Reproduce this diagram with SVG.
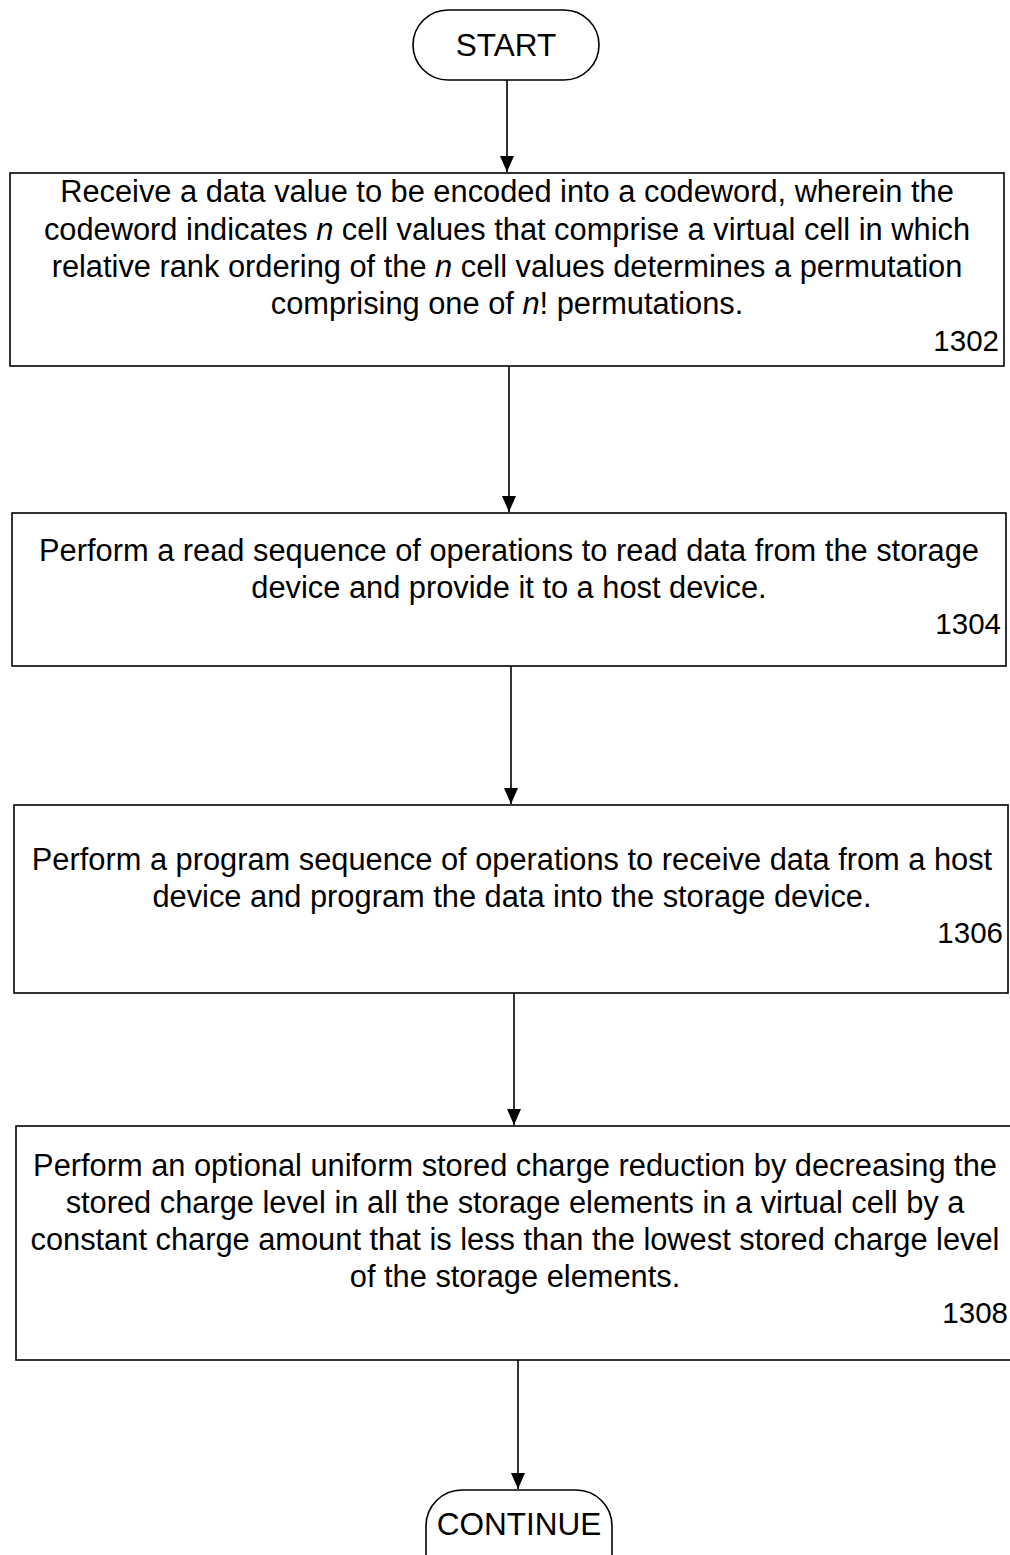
<svg xmlns="http://www.w3.org/2000/svg" width="1010" height="1555" viewBox="0 0 1010 1555">
<style>
text{font-family:"Liberation Sans",Arial,sans-serif;font-size:30.8px;fill:#000}
.c{text-anchor:middle}
.r{text-anchor:end;font-size:29.5px}
.t{font-size:31.5px}
.b{fill:#fff;stroke:#000;stroke-width:1.6}
.e{stroke:#000;stroke-width:1.6;fill:none}
</style>
<defs>
<marker id="ah" viewBox="0 0 16 14" refX="16" refY="7" markerWidth="16" markerHeight="14" markerUnits="userSpaceOnUse" orient="auto">
<path d="M0,0 L16,7 L0,14 z" fill="#000"/>
</marker>
</defs>
<rect width="1010" height="1555" fill="#fff"/>
<g id="connectors">
<line class="e" x1="507" y1="80" x2="507" y2="172" marker-end="url(#ah)"/>
<line class="e" x1="509" y1="366" x2="509" y2="512" marker-end="url(#ah)"/>
<line class="e" x1="511" y1="666" x2="511" y2="804" marker-end="url(#ah)"/>
<line class="e" x1="514" y1="993" x2="514" y2="1125" marker-end="url(#ah)"/>
<line class="e" x1="518" y1="1360" x2="518" y2="1489" marker-end="url(#ah)"/>
</g>
<g id="start">
<rect class="b" x="413" y="10" width="186" height="70" rx="35"/>
<text class="c t" x="506" y="56">START</text>
</g>
<g id="n1302">
<rect class="b" x="10" y="173" width="994" height="193"/>
<text class="c" x="507" y="202">Receive a data value to be encoded into a codeword, wherein the</text>
<text class="c" x="507" y="240">codeword indicates <tspan font-style="italic">n</tspan> cell values that comprise a virtual cell in which</text>
<text class="c" x="507" y="277">relative rank ordering of the <tspan font-style="italic">n</tspan> cell values determines a permutation</text>
<text class="c" x="507" y="314">comprising one of <tspan font-style="italic">n</tspan>! permutations.</text>
<text class="r" x="999" y="351">1302</text>
</g>
<g id="n1304">
<rect class="b" x="12" y="513" width="994" height="153"/>
<text class="c" x="509" y="561">Perform a read sequence of operations to read data from the storage</text>
<text class="c" x="509" y="598">device and provide it to a host device.</text>
<text class="r" x="1001" y="634">1304</text>
</g>
<g id="n1306">
<rect class="b" x="14" y="805" width="994" height="188"/>
<text class="c" x="512" y="870">Perform a program sequence of operations to receive data from a host</text>
<text class="c" x="512" y="907">device and program the data into the storage device.</text>
<text class="r" x="1003" y="943">1306</text>
</g>
<g id="n1308">
<rect class="b" x="16" y="1126" width="1000" height="234"/>
<text class="c" x="515" y="1176">Perform an optional uniform stored charge reduction by decreasing the</text>
<text class="c" x="515" y="1213">stored charge level in all the storage elements in a virtual cell by a</text>
<text class="c" x="515" y="1250">constant charge amount that is less than the lowest stored charge level</text>
<text class="c" x="515" y="1287">of the storage elements.</text>
<text class="r" x="1008" y="1323">1308</text>
</g>
<g id="continue">
<rect class="b" x="426" y="1490" width="186" height="100" rx="36"/>
<text class="c t" x="519" y="1535">CONTINUE</text>
</g>
</svg>
